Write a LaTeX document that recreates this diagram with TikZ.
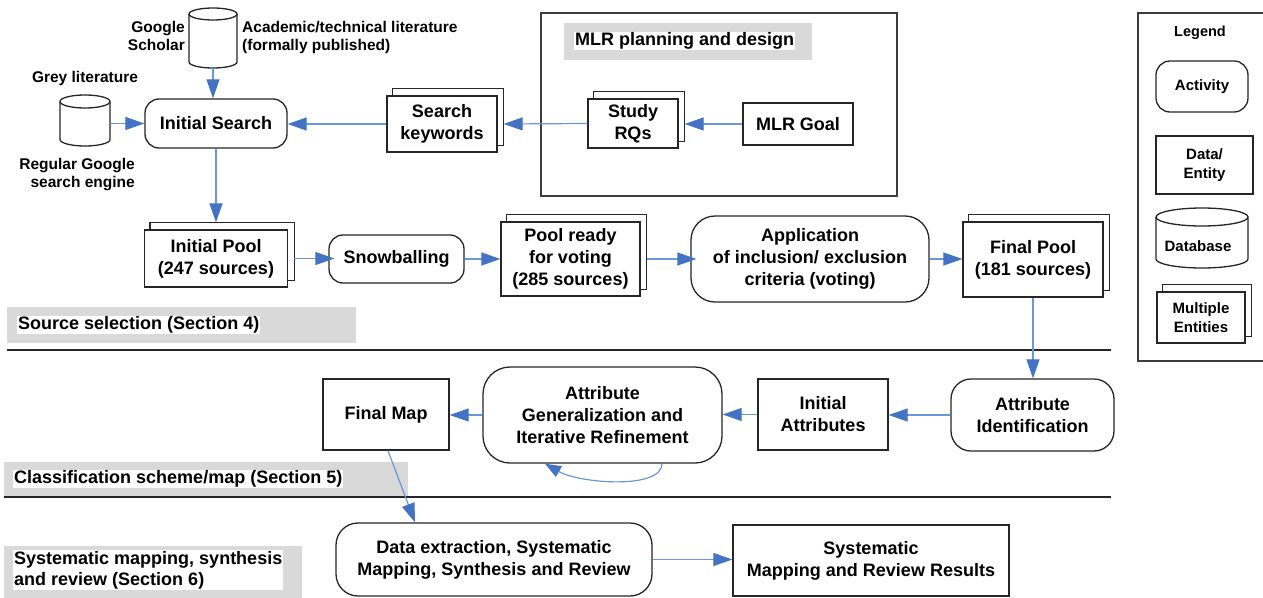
\documentclass[tikz,border=0pt]{standalone}
\usepackage{fontspec}
\setmainfont{Liberation Sans}
\usetikzlibrary{arrows.meta,calc}
\definecolor{arrblue}{HTML}{4472C4}
\definecolor{arrline}{HTML}{6A97D6}
\definecolor{bandgray}{HTML}{D9D9D9}
\definecolor{edgecol}{HTML}{262626}
\newcommand\backbox[1]{\draw[edgecol,line width=1.3pt] ([xshift=6pt]#1.north west) -- ([shift={(6pt,7pt)}]#1.north west) -- ([shift={(6pt,7pt)}]#1.north east) -- ([shift={(6pt,7pt)}]#1.south east) -- ([yshift=7pt]#1.south east);}
% cx cy rx hh ry
\newcommand\cyl[5]{%
 \draw[edgecol,line width=1.3pt,fill=white] (#1-#3,#2-#4+#5) -- (#1-#3,#2+#4-#5) arc[start angle=180,end angle=360,x radius=#3pt,y radius=#5pt] -- (#1+#3,#2-#4+#5) arc[start angle=0,end angle=180,x radius=#3pt,y radius=#5pt] -- cycle;
 \draw[edgecol,line width=1.3pt] (#1-#3,#2-#4+#5) arc[start angle=180,end angle=360,x radius=#3pt,y radius=#5pt];}
\begin{document}
\begin{tikzpicture}[x=1pt,y=-1pt,
 font=\fontsize{18}{22}\selectfont\bfseries,
 box/.style={draw=edgecol,line width=1.3pt,fill=white,align=center,inner sep=0pt},
 act/.style={box,rounded corners=14pt},
 arr/.style={draw=arrline,line width=1.2pt,-{Triangle[length=19pt,width=13pt,color=arrblue]}},
 lbl/.style={font=\fontsize{15.5}{18}\selectfont\bfseries,inner sep=0pt},
 lgd/.style={font=\fontsize{15}{19}\selectfont\bfseries},
 bandtxt/.style={fill=white,inner sep=1pt,anchor=west,align=left},
 frame/.style={draw=edgecol!90,line width=1.2pt},
 sep/.style={draw=edgecol,line width=1.3pt},
 ghost/.style={inner sep=0pt,outer sep=0pt},
]
\useasboundingbox (0,0) rectangle (1263,597);

% ---------- MLR planning box ----------
\draw[frame] (541,13) rectangle (897,196);
\fill[bandgray] (564,23) rectangle (812,60);
\node[bandtxt] (mlrt) at (574,41) {MLR planning and design};

% ---------- legend frame ----------
\draw[frame] (1264,13) -| (1138,361) -- (1264,361);
\node[font=\fontsize{14.5}{17}\selectfont\bfseries] (legt) at (1200,33) {Legend};

% ---------- cylinders ----------
\cyl{213}{38}{24}{30}{6}
\node[ghost,minimum width=48pt,minimum height=60pt] (gs) at (213,38) {};
\cyl{85}{120.5}{25}{25.5}{6.5}
\node[ghost,minimum width=50pt,minimum height=51pt] (gl) at (85,120.5) {};
\cyl{1202}{238}{46}{30}{9}
\node[ghost,minimum width=92pt,minimum height=60pt] (ldb) at (1202,238) {};
\node[lgd,inner sep=0pt] (ldbt) at (1198,246) {Database};

\node[lbl,anchor=east,align=right] (gst) at (185,36) {Google\\Scholar};
\node[lbl,anchor=west,align=left] (act) at (242,37) {Academic/technical literature\\(formally published)};
\node[lbl] (glt) at (85,78) {Grey literature};
\node[lbl,anchor=east,align=right] (rgt) at (135,175) {Regular Google\\search engine};

% ---------- top row ----------
\node[act,minimum width=142pt,minimum height=49pt] (is) at (216,123.5) {Initial Search};
\node[box,minimum width=110pt,minimum height=56pt] (sk) at (442,124) {Search\\keywords};
\backbox{sk}
\node[box,minimum width=90pt,minimum height=49pt] (rq) at (633,123.5) {Study\\RQs};
\backbox{rq}
\node[box,minimum width=110pt,minimum height=42pt] (goal) at (798,124) {MLR Goal};

% ---------- second row ----------
\node[box,minimum width=143pt,minimum height=57pt] (ip) at (216,258.5) {Initial Pool\\(247 sources)};
\backbox{ip}
\node[act,minimum width=135pt,minimum height=48pt] (sn) at (396.5,259) {Snowballing};
\node[box,minimum width=139pt,minimum height=74pt] (pr) at (570.5,259) {Pool ready\\for voting\\(285 sources)};
\backbox{pr}
\node[act,rounded corners=24pt,minimum width=238pt,minimum height=86pt] (ap) at (810,259) {Application\\of inclusion/ exclusion\\criteria (voting)};
\node[box,minimum width=140pt,minimum height=75pt] (fp) at (1033,259.5) {Final Pool\\(181 sources)};
\backbox{fp}

\fill[bandgray] (7,307) rectangle (356,343);
\node[bandtxt] (s4) at (17,325) {Source selection (Section 4)};
\draw[sep] (7,350) -- (1111,350);

% ---------- third row ----------
\node[act,rounded corners=20pt,minimum width=163pt,minimum height=72pt] (ai) at (1032.5,415) {Attribute\\Identification};
\node[box,minimum width=130pt,minimum height=71pt] (ia) at (823,414.5) {Initial\\Attributes};
\node[act,rounded corners=27pt,minimum width=239pt,minimum height=96pt] (ag) at (602.5,415) {Attribute\\Generalization and\\Iterative Refinement};
\node[box,minimum width=126pt,minimum height=71pt] (fm) at (386,414.5) {Final Map};

\fill[bandgray] (4,462) rectangle (408,497);
\node[bandtxt] (s5) at (13,479) {Classification scheme/map (Section 5)};
\draw[sep] (4,497) -- (1111,497);

% ---------- fourth row ----------
\fill[bandgray] (4,546) rectangle (302,598);
\node[bandtxt,font=\fontsize{18}{21}\selectfont\bfseries] (s6) at (13,570) {Systematic mapping, synthesis\\and review (Section 6)};
\node[act,rounded corners=22pt,minimum width=316pt,minimum height=73pt] (de) at (494,559.5) {Data extraction, Systematic\\Mapping, Synthesis and Review};
\node[box,minimum width=276pt,minimum height=71pt] (res) at (871,560.5) {Systematic\\Mapping and Review Results};

% ---------- legend items ----------
\node[act,lgd,minimum width=92pt,minimum height=51pt] (la) at (1202,86.5) {Activity};
\node[box,lgd,minimum width=97pt,minimum height=58pt] (ld) at (1204.5,165) {Data/\\Entity};
\node[box,lgd,minimum width=88pt,minimum height=51pt] (lm) at (1201,317.5) {Multiple\\Entities};
\backbox{lm}

% ---------- connectors ----------
\draw[arr] (gs.south) -- (gs.south |- is.north);
\draw[arr] (gl.east |- is.west) -- (is.west);
\draw[arr] (sk.west) -- (sk.west -| is.east);
\draw[arr] (rq.west) -- ([xshift=6pt]sk.east);
\draw[arr] (goal.west) -- ([xshift=6pt]goal.west -| rq.east);
\draw[arr] (is.south) -- ([yshift=7pt]ip.north);
\draw[arr] ([xshift=6pt]ip.east) -- ([xshift=6pt]ip.east -| sn.west);
\draw[arr] (sn.east) -- (sn.east -| pr.west);
\draw[arr] ([xshift=6pt]pr.east) -- ([xshift=6pt]pr.east -| ap.west);
\draw[arr] (ap.east) -- (ap.east -| fp.west);
\draw[arr] (fp.south) -- (fp.south |- ai.north);
\draw[arr] (ai.west) -- (ai.west -| ia.east);
\draw[arr] (ia.west) -- (ia.west -| ag.east);
\draw[arr] (ag.west) -- (ag.west -| fm.east);
\draw[arr,-{Triangle[length=16pt,width=12pt,color=arrblue]}] ([xshift=59.5pt]ag.south) .. controls +(0,26) and +(35,20) .. ([xshift=-57.5pt]ag.south);
\draw[arr] ([xshift=2pt]fm.south) -- ([xshift=-79pt]de.north);
\draw[arr] (de.east) -- (de.east -| res.west);
\end{tikzpicture}
\end{document}
